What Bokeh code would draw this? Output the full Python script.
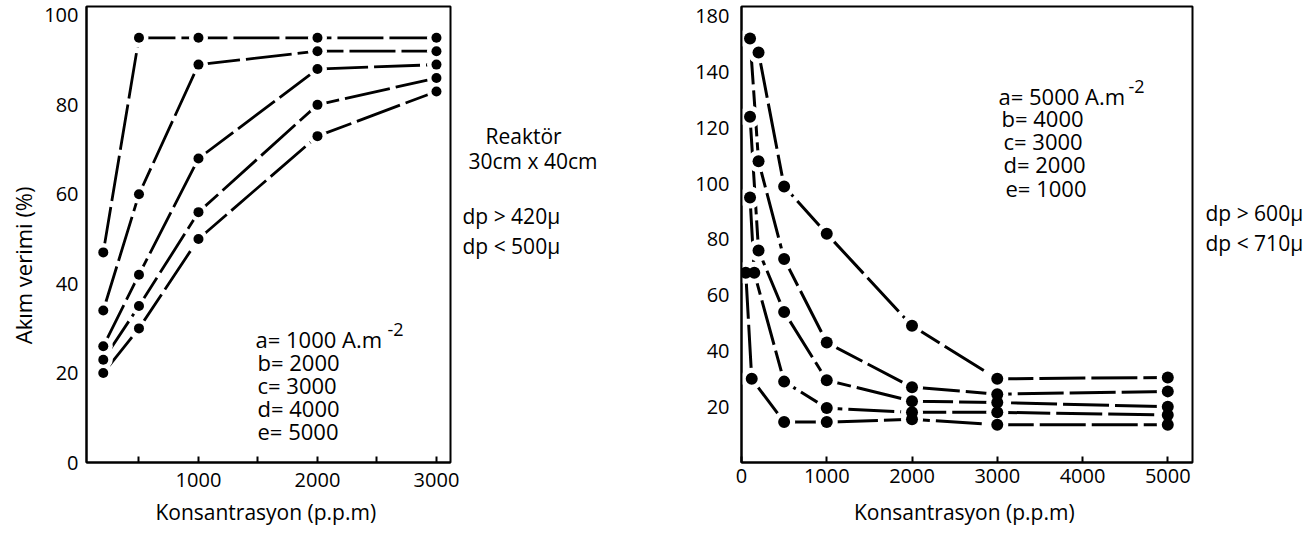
import numpy as np
from bokeh.plotting import figure
from bokeh.layouts import row
from bokeh.models import FixedTicker, Range1d
from bokeh.embed import file_html
from bokeh.resources import INLINE
from bokeh.core.properties import value

FONT = "Open Sans"
H = 538
BTOP = 6      # border above the frames
BBOT = 76     # border below the frames
FRAME_BOTTOM = H - BBOT   # page y of the frame bottoms
FH = H - BTOP - BBOT      # frame height in px

# ---------------- data: left panel (Reaktör 30cm x 40cm, 420 < dp < 500 µ)
left_x = [200, 500, 1000, 2000, 3000]
left_a = [47, 95, 95, 95, 95]
left_b = [34, 60, 89, 92, 92]
left_c = [26, 42, 68, 88, 89]
left_d = [23, 35, 56, 80, 86]
left_e = [20, 30, 50, 73, 83]
left_series = [left_a, left_b, left_c, left_d, left_e]
left_legend = ["a= 1000  A.m", "b= 2000", "c= 3000", "d= 4000", "e= 5000"]
left_yticks = [0, 20, 40, 60, 80, 100]
left_xticks = [500, 1000, 1500, 2000, 2500, 3000]
left_xlabels = {500: "", 1000: "1000", 1500: "", 2000: "2000", 2500: "", 3000: "3000"}

# ---------------- data: right panel (600 < dp < 710 µ)
right_a_x = [200, 500, 1000, 2000, 3000, 5000]
right_a = [147, 99, 82, 49, 30, 30.5]
right_b_x = [100, 200, 500, 1000, 2000, 3000, 5000]
right_b = [152, 108, 73, 43, 27, 24.5, 25.5]
right_c_x = [100, 200, 500, 1000, 2000, 3000, 5000]
right_c = [124, 76, 54, 29.5, 22, 21.5, 20]
right_d_x = [100, 150, 500, 1000, 2000, 3000, 5000]
right_d = [95, 68, 29, 19.5, 18, 18, 17]
right_e_x = [50, 120, 500, 1000, 2000, 3000, 5000]
right_e = [68, 30, 14.5, 14.5, 15.5, 13.5, 13.5]
right_series = [(right_a_x, right_a), (right_b_x, right_b), (right_c_x, right_c),
                (right_d_x, right_d), (right_e_x, right_e)]
right_legend = ["a= 5000  A.m", "b= 4000", "c= 3000", "d= 2000", "e= 1000"]
right_yticks = [20, 40, 60, 80, 100, 120, 140, 160]
right_ylabels = {20: "20", 40: "40", 60: "60", 80: "80", 100: "100", 120: "120", 140: "140", 160: "180"}
right_xticks = [0, 1000, 2000, 3000, 4000, 5000]

XLABEL = "Konsantrasyon  (p.p.m)"
YLABEL = "Akım verimi  (%)"


def style_axes(p):
    p.xgrid.visible = False
    p.ygrid.visible = False
    p.outline_line_color = "black"
    p.outline_line_width = 2
    p.background_fill_color = "white"
    p.border_fill_color = "white"
    for ax in p.axis:
        ax.axis_line_width = 2
        ax.axis_line_color = "black"
        ax.major_label_text_font = FONT
        ax.major_label_text_font_size = "20px"
        ax.major_label_text_color = "black"
        ax.minor_tick_line_color = None
        ax.axis_label_text_font = FONT
        ax.axis_label_text_font_size = "21px"
        ax.axis_label_text_font_style = "normal"
        ax.axis_label_text_color = "black"
        ax.major_tick_line_color = "black"
        ax.major_tick_line_width = 2


def text_fig(width):
    f = figure(width=width, height=H, x_range=Range1d(0, width), y_range=Range1d(0, FH),
               toolbar_location=None, output_backend="svg",
               min_border_left=0, min_border_right=0,
               min_border_top=BTOP, min_border_bottom=BBOT,
               x_axis_type=None, y_axis_type=None)
    f.grid.visible = False
    f.outline_line_color = None
    f.background_fill_color = "white"
    f.border_fill_color = "white"
    return f


def put_text(f, xs, ys, texts, size="21px", **kw):
    f.text(x=xs, y=ys, text=texts, text_font=value(FONT), text_font_size=size,
           text_color="black", text_baseline="middle", **kw)


def py2d(py):
    """page y -> data y of a text strip"""
    return FRAME_BOTTOM - py


# ---------------- y-label strip (page x 0..40)
fY = text_fig(40)
put_text(fY, [22], [py2d(262)], [YLABEL], size="22px", angle=np.pi / 2, text_align="center")

# ---------------- left panel (page x 40..460, frame 86..450)
LX0, LX1, LY0, LY1 = 59, 3118, 0, 102
pL = figure(width=420, height=H, x_range=Range1d(LX0, LX1), y_range=Range1d(LY0, LY1),
            toolbar_location=None, output_backend="svg",
            min_border_left=46, min_border_right=10, min_border_top=BTOP, min_border_bottom=BBOT)
style_axes(pL)
pL.xaxis.ticker = FixedTicker(ticks=left_xticks)
pL.xaxis.major_label_overrides = left_xlabels
pL.xaxis.major_tick_in = 6
pL.xaxis.major_tick_out = 0
pL.xaxis.major_label_standoff = 10
pL.xaxis.axis_label = XLABEL
pL.xaxis.axis_label_standoff = 8
pL.yaxis.ticker = FixedTicker(ticks=left_yticks)
pL.yaxis.major_tick_in = 0
pL.yaxis.major_tick_out = 0
pL.yaxis.major_label_standoff = 8

for ys in left_series:
    pL.line(left_x, ys, line_color="black", line_width=2.8, line_dash="46 6")
for ys in left_series:
    pL.scatter(left_x, ys, size=19, fill_color="white", line_color=None)
for ys in left_series:
    pL.scatter(left_x, ys, size=10, fill_color="black", line_color=None)


def lx(px):
    return LX0 + (px - 86) / 364 * (LX1 - LX0)


def ly(py):
    return (FRAME_BOTTOM - py) / FH * (LY1 - LY0)


left_rows = [338, 361, 384, 407, 430]
left_cols = [255, 257, 257, 257, 257]
put_text(pL, [lx(c) for c in left_cols], [ly(r) for r in left_rows], left_legend,
         size="22px", text_align="left")
put_text(pL, [lx(387)], [ly(329)], ["-2"], size="18px", text_align="left")

# ---------------- middle annotation strip (page x 460..690)
fM = text_fig(230)
put_text(fM, [25, 8, 2, 2], [py2d(135), py2d(160), py2d(215), py2d(245)],
         ["Reaktör", "30cm x 40cm", "dp > 420μ", "dp < 500μ"], text_align="left")

# ---------------- right panel (page x 690..1196, frame 741..1192)
RX0, RX1, RY0, RY1 = 0, 5290, 0, 163.5
pR = figure(width=506, height=H, x_range=Range1d(RX0, RX1), y_range=Range1d(RY0, RY1),
            toolbar_location=None, output_backend="svg",
            min_border_left=51, min_border_right=4, min_border_top=BTOP, min_border_bottom=BBOT)
style_axes(pR)
pR.xaxis.ticker = FixedTicker(ticks=right_xticks)
pR.xaxis.major_tick_in = 6
pR.xaxis.major_tick_out = 0
pR.xaxis.major_label_standoff = 6
pR.xaxis.axis_label = XLABEL
pR.xaxis.axis_label_standoff = 12
pR.yaxis.ticker = FixedTicker(ticks=right_yticks)
pR.yaxis.major_label_overrides = right_ylabels
pR.yaxis.major_tick_in = 0
pR.yaxis.major_tick_out = 0
pR.yaxis.major_label_standoff = 12

for xs, ys in right_series:
    pR.line(xs, ys, line_color="black", line_width=3, line_dash="46 6")
for xs, ys in right_series:
    pR.scatter(xs, ys, size=22, fill_color="white", line_color=None)
for xs, ys in right_series:
    pR.scatter(xs, ys, size=12, fill_color="black", line_color=None)


def rx(px):
    return RX0 + (px - 741) / 451 * (RX1 - RX0)


def ry(py):
    return (FRAME_BOTTOM - py) / FH * (RY1 - RY0)


right_rows = [95, 117, 140, 163, 187]
right_cols = [998, 1001, 1003, 1003, 1005]
put_text(pR, [rx(c) for c in right_cols], [ry(r) for r in right_rows], right_legend,
         size="22px", text_align="left")
put_text(pR, [rx(1128)], [ry(86)], ["-2"], size="18px", text_align="left")

# ---------------- right annotation strip (page x 1196..1309)
fR2 = text_fig(113)
put_text(fR2, [9, 9], [py2d(212), py2d(242)], ["dp > 600μ", "dp < 710μ"], text_align="left")

layout = row(fY, pL, fM, pR, fR2)
open("out.html", "w").write(file_html(layout, INLINE))
